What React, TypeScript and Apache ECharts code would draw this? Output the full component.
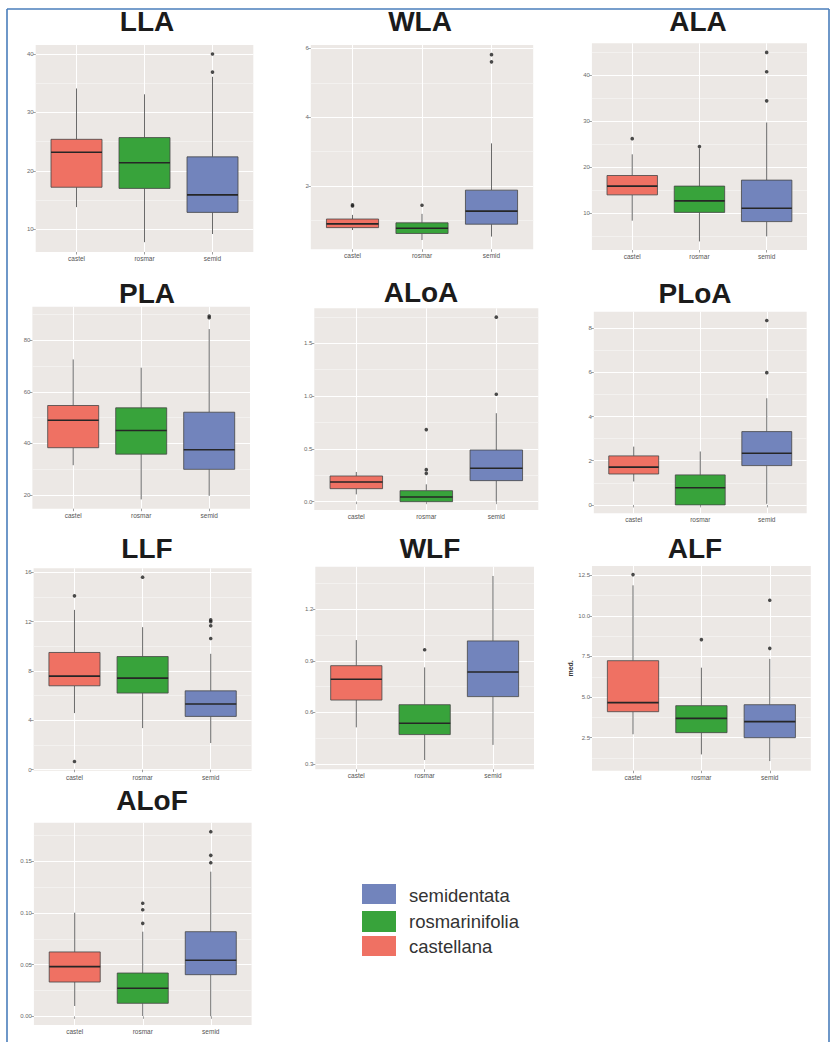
import React, { useEffect, useRef } from "react";
import * as echarts from "echarts";

// ---------- data ----------
const CATEGORIES = ["castel", "rosmar", "semid"];
const LEGEND_NAMES = ["semidentata", "rosmarinifolia", "castellana"];
const TITLES = ["LLA", "WLA", "ALA", "PLA", "ALoA", "PLoA", "LLF", "WLF", "ALF", "ALoF"];

// box stats per category: [lower whisker, Q1, median, Q3, upper whisker]
const LLA_BOX = [[13.8, 17.2, 23.2, 25.4, 34.1], [7.8, 17.0, 21.4, 25.7, 33.1], [9.2, 12.9, 15.9, 22.4, 36.1]];
const LLA_OUT = [[], [], [36.9, 40.0]];
const WLA_BOX = [[0.72, 0.79, 0.9, 1.04, 1.16], [0.43, 0.62, 0.77, 0.93, 1.19], [0.53, 0.89, 1.27, 1.88, 3.24]];
const WLA_OUT = [[1.42, 1.45], [1.44], [5.61, 5.82]];
const ALA_BOX = [[8.4, 14.0, 15.9, 18.2, 22.8], [3.9, 10.2, 12.7, 15.9, 24.1], [5.0, 8.2, 11.1, 17.2, 29.7]];
const ALA_OUT = [[26.2], [24.5], [34.4, 40.7, 44.9]];
const PLA_BOX = [[31.5, 38.3, 49.0, 54.7, 72.6], [18.2, 35.8, 45.0, 53.8, 69.4], [19.6, 29.9, 37.5, 52.1, 84.4]];
const PLA_OUT = [[], [], [88.8, 89.5]];
const ALOA_BOX = [[0.069, 0.123, 0.186, 0.243, 0.281], [0.0, 0.0, 0.044, 0.104, 0.164], [0.0, 0.199, 0.316, 0.489, 0.837]];
const ALOA_OUT = [[], [0.268, 0.303, 0.682], [1.017, 1.746]];
const PLOA_BOX = [[1.06, 1.4, 1.71, 2.22, 2.64], [0.0, 0.0, 0.78, 1.36, 2.42], [0.05, 1.78, 2.34, 3.32, 4.83]];
const PLOA_OUT = [[], [], [5.99, 8.35]];
const LLF_BOX = [[4.59, 6.8, 7.58, 9.5, 12.95], [3.37, 6.21, 7.42, 9.17, 11.55], [2.16, 4.32, 5.32, 6.39, 9.39]];
const LLF_OUT = [[0.67, 14.09], [15.6], [10.63, 11.66, 12.0, 12.14]];
const WLF_BOX = [[0.513, 0.672, 0.793, 0.872, 1.021], [0.323, 0.471, 0.537, 0.645, 0.862], [0.411, 0.692, 0.835, 1.016, 1.394]];
const WLF_OUT = [[], [0.965], []];
const ALF_BOX = [[2.71, 4.1, 4.66, 7.24, 11.88], [1.47, 2.81, 3.69, 4.47, 6.81], [1.06, 2.5, 3.49, 4.53, 7.35]];
const ALF_OUT = [[12.54], [8.54], [8.0, 10.96]];
const ALOF_BOX = [[0.01, 0.0332, 0.0481, 0.0623, 0.1003], [0.0003, 0.0126, 0.0271, 0.0419, 0.0819], [0.0, 0.0403, 0.0542, 0.0819, 0.14]];
const ALOF_OUT = [[], [0.09, 0.1032, 0.1094], [0.1487, 0.1558, 0.1787]];

// y tick values and labels per panel
const LLA_TICKS = [10, 20, 30, 40];
const LLA_LABELS = ["10", "20", "30", "40"];
const WLA_TICKS = [2, 4, 6];
const WLA_LABELS = ["2", "4", "6"];
const ALA_TICKS = [10, 20, 30, 40];
const ALA_LABELS = ["10", "20", "30", "40"];
const PLA_TICKS = [20, 40, 60, 80];
const PLA_LABELS = ["20", "40", "60", "80"];
const ALOA_TICKS = [0, 0.5, 1, 1.5];
const ALOA_LABELS = ["0.0", "0.5", "1.0", "1.5"];
const PLOA_TICKS = [0, 2, 4, 6, 8];
const PLOA_LABELS = ["0", "2", "4", "6", "8"];
const LLF_TICKS = [0, 4, 8, 12, 16];
const LLF_LABELS = ["0", "4", "8", "12", "16"];
const WLF_TICKS = [0.3, 0.6, 0.9, 1.2];
const WLF_LABELS = ["0.3", "0.6", "0.9", "1.2"];
const ALF_TICKS = [2.5, 5, 7.5, 10, 12.5];
const ALF_LABELS = ["2.5", "5.0", "7.5", "10.0", "12.5"];
const ALOF_TICKS = [0, 0.05, 0.1, 0.15];
const ALOF_LABELS = ["0.00", "0.05", "0.10", "0.15"];

const Y_RANGES = [
  [6.12, 41.54], [0.16, 6.1], [2.04, 46.88], [14.6, 93.1], [-0.079, 1.83],
  [-0.38, 8.75], [-0.08, 16.32], [0.269, 1.448], [0.467, 13.07], [-0.0084, 0.1874],
];
const Y_NAMES = ["", "", "", "", "", "", "", "", "med.", ""];

// ---------- layout / style ----------
const RECTS = [
  [35.7, 45, 253.3, 252], [310.8, 45, 533.2, 249.3], [591.9, 43.3, 807, 250],
  [32.4, 306.7, 250, 508.7], [314.3, 308.3, 538.3, 510], [593.8, 311.7, 806.7, 513.3],
  [33.6, 568.3, 251.6, 770.7], [315.3, 566.7, 534, 769.3], [592, 566, 810.8, 770.7],
  [33.9, 822.7, 251.6, 1025],
];
const TITLE_POS = [
  [147, 21], [420, 21], [698, 21], [147, 293], [421, 292], [695, 293],
  [147, 548], [430, 548], [695, 548], [152, 800],
];
const BOX_COLORS = ["#EF7163", "#38A33B", "#7284BC"];
const LEGEND_COLORS = ["#7284BC", "#38A33B", "#EF7163"];
const PANEL_BG = "#ECE8E5";
const FONT = "Liberation Sans, Arial, sans-serif";

const BOXES = [LLA_BOX, WLA_BOX, ALA_BOX, PLA_BOX, ALOA_BOX, PLOA_BOX, LLF_BOX, WLF_BOX, ALF_BOX, ALOF_BOX];
const OUTS = [LLA_OUT, WLA_OUT, ALA_OUT, PLA_OUT, ALOA_OUT, PLOA_OUT, LLF_OUT, WLF_OUT, ALF_OUT, ALOF_OUT];
const TICKS = [LLA_TICKS, WLA_TICKS, ALA_TICKS, PLA_TICKS, ALOA_TICKS, PLOA_TICKS, LLF_TICKS, WLF_TICKS, ALF_TICKS, ALOF_TICKS];
const LABELS = [LLA_LABELS, WLA_LABELS, ALA_LABELS, PLA_LABELS, ALOA_LABELS, PLOA_LABELS, LLF_LABELS, WLF_LABELS, ALF_LABELS, ALOF_LABELS];

function minorTicks(ticks: number[]) {
  const step = ticks[1] - ticks[0];
  const res: number[] = [ticks[0] - step / 2];
  for (let i = 0; i < ticks.length; i++) res.push(ticks[i] + step / 2);
  return res;
}

export default function App() {
  const ref = useRef<HTMLDivElement>(null);
  useEffect(() => {
    const chart = echarts.init(ref.current as HTMLDivElement, null, { renderer: "svg" });
    const grid: any[] = [];
    const xAxis: any[] = [];
    const yAxis: any[] = [];
    const series: any[] = [];
    const graphic: any[] = [];

    TITLES.forEach((title, i) => {
      const [l, t, r, b] = RECTS[i];
      const [yMin, yMax] = Y_RANGES[i];
      const ticks = TICKS[i];
      const labels = LABELS[i];
      const eps = (yMax - yMin) * 1e-6;
      grid.push({ left: l, top: t, width: r - l, height: b - t, show: true, backgroundColor: PANEL_BG, borderWidth: 0 });
      xAxis.push({
        type: "value", gridIndex: i, min: 0.4, max: 3.6,
        axisLine: { show: false },
        axisTick: { show: true, length: 2.5, lineStyle: { color: "#888", width: 0.8 }, customValues: [1, 2, 3] },
        axisLabel: {
          customValues: [1, 2, 3], fontSize: 6.5, color: "#555", margin: 3, fontFamily: FONT,
          formatter: (v: number) => CATEGORIES[Math.round(v) - 1] ?? "",
        },
        splitLine: { show: true, lineStyle: { color: "#ffffff", width: 1 } },
      });
      yAxis.push({
        type: "value", gridIndex: i, min: yMin, max: yMax, position: "left",
        name: Y_NAMES[i], nameLocation: "middle", nameGap: 17, nameRotate: 90,
        nameTextStyle: { fontSize: 7, color: "#333", fontWeight: "bold", fontFamily: FONT },
        axisLine: { show: false },
        axisTick: { show: true, length: 2.5, lineStyle: { color: "#888", width: 0.8 }, customValues: ticks },
        axisLabel: {
          customValues: ticks, fontSize: 6, color: "#6a6a6a", margin: 2, fontFamily: FONT,
          formatter: (v: number) => {
            const k = ticks.findIndex((tv) => Math.abs(tv - v) < eps);
            return k >= 0 ? labels[k] : "";
          },
        },
        splitLine: { show: true, lineStyle: { color: "#ffffff", width: 1 } },
      });
      yAxis.push({
        type: "value", gridIndex: i, min: yMin, max: yMax, position: "left",
        axisLine: { show: false },
        axisTick: { show: false, customValues: minorTicks(ticks) },
        axisLabel: { show: false },
        splitLine: { show: true, lineStyle: { color: "#F5F3F1", width: 0.8 } },
      });

      series.push({
        type: "custom", xAxisIndex: i, yAxisIndex: 2 * i,
        data: BOXES[i].map((b, k) => [k + 1, ...b]),
        encode: { x: 0, y: [1, 2, 3, 4, 5] },
        renderItem: (params: any, api: any) => {
          const x = api.value(0);
          const k = Math.round(x) - 1;
          const pLow = api.coord([x, api.value(1)]);
          const pQ1 = api.coord([x, api.value(2)]);
          const pMed = api.coord([x, api.value(3)]);
          const pQ3 = api.coord([x, api.value(4)]);
          const pHigh = api.coord([x, api.value(5)]);
          const w = api.size([0.75, 0])[0];
          const cx = pMed[0];
          return {
            type: "group",
            children: [
              { type: "line", shape: { x1: cx, y1: pLow[1], x2: cx, y2: pQ1[1] }, style: { stroke: "#6a6a6a", lineWidth: 1 } },
              { type: "line", shape: { x1: cx, y1: pQ3[1], x2: cx, y2: pHigh[1] }, style: { stroke: "#6a6a6a", lineWidth: 1 } },
              { type: "rect", shape: { x: cx - w / 2, y: pQ3[1], width: w, height: Math.max(pQ1[1] - pQ3[1], 0.5) }, style: { fill: BOX_COLORS[k], stroke: "#454545", lineWidth: 0.8 } },
              { type: "line", shape: { x1: cx - w / 2, y1: pMed[1], x2: cx + w / 2, y2: pMed[1] }, style: { stroke: "#262626", lineWidth: 1.6 } },
            ],
          };
        },
        z: 3,
      });
      series.push({
        type: "scatter", xAxisIndex: i, yAxisIndex: 2 * i,
        data: OUTS[i].flatMap((arr, k) => arr.map((v) => [k + 1, v])),
        symbolSize: 3.6,
        itemStyle: { color: "#1e1e1e" },
        z: 4,
      });

      graphic.push({
        type: "text", x: TITLE_POS[i][0], y: TITLE_POS[i][1],
        style: {
          text: title, fontSize: 28, fontWeight: "bold", fontFamily: FONT, fill: "#1b1b1b",
          align: "center", verticalAlign: "middle", textAlign: "center", textVerticalAlign: "middle",
        },
      });
    });

    // legend
    const swatchY = [884, 911, 936];
    const swatchH = [20, 21, 20];
    const textY = [895, 921, 946];
    LEGEND_NAMES.forEach((name, k) => {
      graphic.push({ type: "rect", shape: { x: 362, y: swatchY[k], width: 34, height: swatchH[k] }, style: { fill: LEGEND_COLORS[k] } });
      graphic.push({
        type: "text", x: 409, y: textY[k],
        style: { text: name, fontSize: 18.5, fontFamily: FONT, fill: "#333", align: "left", verticalAlign: "middle", textAlign: "left", textVerticalAlign: "middle" },
      });
    });

    // blue frame
    const frame = { stroke: "#4A7EBB", lineWidth: 1.6 };
    graphic.push({ type: "line", shape: { x1: 7, y1: 9, x2: 829, y2: 9 }, style: frame });
    graphic.push({ type: "line", shape: { x1: 7, y1: 9, x2: 7, y2: 1042 }, style: frame });
    graphic.push({ type: "line", shape: { x1: 829, y1: 9, x2: 829, y2: 1042 }, style: frame });

    chart.setOption({
      animation: false,
      backgroundColor: "#ffffff",
      grid, xAxis, yAxis, series, graphic,
    });
    return () => chart.dispose();
  }, []);
  return <div ref={ref} style={{ position: "absolute", left: 0, top: 0, width: 831, height: 1042 }} />;
}
